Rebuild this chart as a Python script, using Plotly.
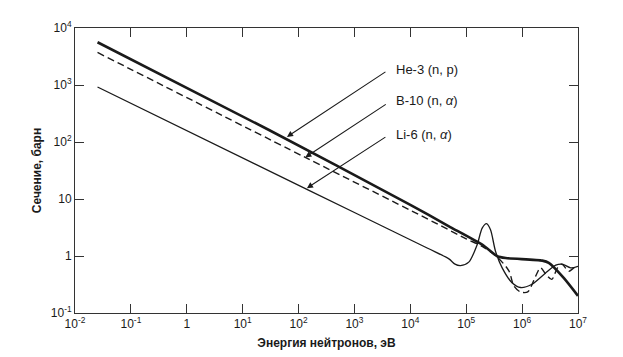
import numpy as np
import plotly.graph_objects as go

# ---- data (energy in eV, cross section in barn) ----
he3_E = [0.0253, 29, 1.0e4, 4.9e4, 1.93e5, 3.6e5, 5.1e5, 2.3e6, 3.0e6, 5.6e6, 1.0e7]
he3_sigma = [5620, 164, 7.9, 3.32, 1.58, 0.99, 0.92, 0.83, 0.76, 0.41, 0.20]

b10_E = [0.0253, 132, 3.2e4, 1.0e5, 1.93e5, 3.6e5, 5.8e5, 7.1e5, 9.3e5, 1.26e6,
         1.74e6, 2.14e6, 2.7e6, 3.4e6, 4.3e6, 5.1e6, 6.9e6, 8.5e6, 1.0e7]
b10_sigma = [3720, 53.7, 3.56, 2.0, 1.48, 0.955, 0.55, 0.30, 0.234, 0.234,
             0.44, 0.62, 0.47, 0.39, 0.62, 0.72, 0.54, 0.62, 0.62]

li6_E = [0.0253, 141, 2.0e4, 4.9e4, 6.3e4, 7.9e4, 1.11e5, 1.57e5, 1.93e5, 2.31e5,
         2.72e5, 3.35e5, 4.4e5, 6.6e5, 9.4e5, 1.5e6, 2.6e6, 4.0e6, 5.2e6, 7.4e6, 1.0e7]
li6_sigma = [923, 14.8, 1.38, 0.89, 0.72, 0.68, 0.78, 1.58, 3.09, 3.69,
             2.88, 1.2, 0.62, 0.34, 0.28, 0.32, 0.50, 0.69, 0.72, 0.62, 0.66]

x_tickvals = [1e-2, 1e-1, 1, 1e1, 1e2, 1e3, 1e4, 1e5, 1e6, 1e7]
x_ticktext = ["10<sup>-2</sup>", "10<sup>-1</sup>", "1", "10<sup>1</sup>", "10<sup>2</sup>",
              "10<sup>3</sup>", "10<sup>4</sup>", "10<sup>5</sup>", "10<sup>6</sup>", "10<sup>7</sup>"]
y_tickvals = [1e-1, 1, 10, 1e2, 1e3, 1e4]
y_ticktext = ["10<sup>-1</sup>", "1", "10", "10<sup>2</sup>", "10<sup>3</sup>", "10<sup>4</sup>"]

labels = ["He-3 (n, p)", "B-10 (n, <i>α</i>)", "Li-6 (n, <i>α</i>)"]
arrow_tip_E = [62, 132, 141]
arrow_tip_sigma = [123, 53.7, 15.5]

INK = "#1a1a1a"
FONT = "Liberation Sans, Arial, sans-serif"

fig = go.Figure()
fig.add_trace(go.Scatter(x=li6_E, y=li6_sigma, mode="lines",
                         line=dict(color=INK, width=1.3, shape="spline", smoothing=0.8),
                         showlegend=False, hoverinfo="skip"))
fig.add_trace(go.Scatter(x=b10_E, y=b10_sigma, mode="lines",
                         line=dict(color=INK, width=1.4, dash="7px,4px", shape="spline", smoothing=0.8),
                         showlegend=False, hoverinfo="skip"))
fig.add_trace(go.Scatter(x=he3_E, y=he3_sigma, mode="lines",
                         line=dict(color=INK, width=2.6, shape="spline", smoothing=0.6),
                         showlegend=False, hoverinfo="skip"))

# arrows
offsets = [(100, -66), (82, -54), (80, -52)]
for (E, s, (ax, ay)) in zip(arrow_tip_E, arrow_tip_sigma, offsets):
    fig.add_annotation(x=np.log10(E), y=np.log10(s), xref="x", yref="y",
                       ax=ax, ay=ay, text="", showarrow=True,
                       arrowhead=2, arrowsize=1.1, arrowwidth=1.1, arrowcolor=INK)

# labels
label_y = [0.856, 0.744, 0.628]
for t, yy in zip(labels, label_y):
    fig.add_annotation(x=0.634, y=yy, xref="paper", yref="paper", text=t,
                       showarrow=False, xanchor="left", yanchor="middle",
                       font=dict(family=FONT, size=13, color=INK))

axis_common = dict(type="log", showline=True, linecolor="#333", linewidth=1,
                   mirror="ticks", ticks="inside", ticklen=9, tickcolor="#333",
                   tickwidth=1, showgrid=False, zeroline=False,
                   tickfont=dict(family=FONT, size=12, color=INK))

fig.update_xaxes(range=[-2, 7], tickvals=x_tickvals, ticktext=x_ticktext,
                 title=dict(text="<b>Энергия нейтронов, эВ</b>", standoff=8,
                            font=dict(family=FONT, size=12, color=INK)),
                 **axis_common)
fig.update_yaxes(range=[-1, 4], tickvals=y_tickvals, ticktext=y_ticktext,
                 title=dict(text="<b>Сечение, барн</b>", standoff=6,
                            font=dict(family=FONT, size=12, color=INK)),
                 **axis_common)

fig.update_layout(width=623, height=357,
                  margin=dict(l=67, r=53, t=20, b=52),
                  paper_bgcolor="white", plot_bgcolor="white",
                  font=dict(family=FONT, color=INK))

fig.write_html("out.html")
